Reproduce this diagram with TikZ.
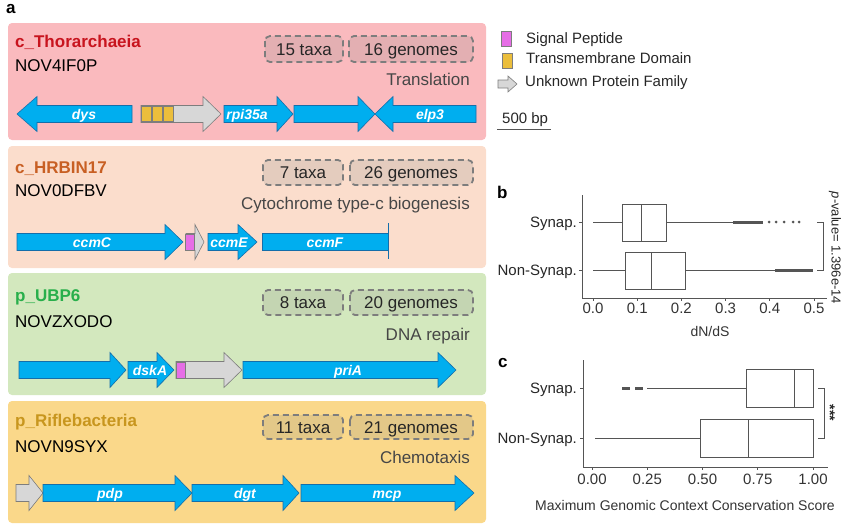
\documentclass[tikz,border=0pt]{standalone}
\usepackage{fontspec}
\setmainfont{Liberation Sans}
\definecolor{pinkbox}{RGB}{250,186,190}
\definecolor{peachbox}{RGB}{251,221,204}
\definecolor{greenbox}{RGB}{211,232,190}
\definecolor{yellowbox}{RGB}{250,216,138}
\definecolor{spred}{RGB}{200,20,30}
\definecolor{sporange}{RGB}{200,95,35}
\definecolor{spgreen}{RGB}{40,175,75}
\definecolor{spgold}{RGB}{200,150,30}
\definecolor{genec}{RGB}{0,174,239}
\definecolor{genee}{RGB}{20,110,170}
\definecolor{unkc}{RGB}{215,215,215}
\definecolor{unke}{RGB}{125,125,125}
\definecolor{sigc}{RGB}{230,110,230}
\definecolor{tmc}{RGB}{235,190,60}
\definecolor{axc}{RGB}{85,85,85}
\definecolor{txtgray}{RGB}{70,70,70}
\newcommand\geneR[5][gene]{\draw[#1] (#2,#5-8.5) -- (#3,#5-8.5) -- (#3,#5-17.5) -- (#4,#5) -- (#3,#5+17.5) -- (#3,#5+8.5) -- (#2,#5+8.5) -- cycle;}
\newcommand\geneL[5][gene]{\draw[#1] (#2,#5-8.5) -- (#3,#5-8.5) -- (#3,#5-17.5) -- (#4,#5) -- (#3,#5+17.5) -- (#3,#5+8.5) -- (#2,#5+8.5) -- cycle;}
\begin{document}
\begin{tikzpicture}[x=1pt,y=-1pt,
  gene/.style={fill=genec,draw=genee,line width=0.6pt},
  unk/.style={fill=unkc,draw=unke,line width=0.6pt},
  glab/.style={text=white,anchor=base,inner sep=0pt,font=\fontsize{14}{16}\selectfont\bfseries\itshape},
  panelbox/.style={rounded corners=4pt,draw=none},
  sp/.style={anchor=base west,inner sep=0pt,font=\fontsize{17}{20}\selectfont\bfseries},
  nov/.style={anchor=base west,inner sep=0pt,font=\fontsize{17}{20}\selectfont},
  func/.style={anchor=base east,inner sep=0pt,text=txtgray,font=\fontsize{17}{20}\selectfont},
  dbox/.style={draw=unke,dashed,dash pattern=on 6pt off 4pt,line width=1.8pt,rounded corners=5pt,fill=gray,fill opacity=0.18,text opacity=1},
  dtxt/.style={anchor=base,inner sep=0pt,text=black!85,font=\fontsize{17}{20}\selectfont},
  plab/.style={anchor=base west,inner sep=0pt,font=\fontsize{17}{20}\selectfont\bfseries},
  leg/.style={anchor=base west,inner sep=0pt,text=black!85,font=\fontsize{15}{18}\selectfont},
  axis/.style={draw=axc,line width=0.8pt},
  bx/.style={draw=axc,line width=0.8pt,fill=white},
  tick/.style={anchor=base,inner sep=0pt,text=black!80,font=\fontsize{15}{18}\selectfont},
  ylab/.style={anchor=base east,inner sep=0pt,text=black!85,font=\fontsize{15}{18}\selectfont},
  outl/.style={draw=axc,line width=3pt}
]
\useasboundingbox (0,0) rectangle (850,528);
% ---------------- panel a -----------------
\node[plab] (la) at (6,13.5) {a};
\fill[pinkbox,panelbox] (8,23) rectangle (486,140);
\fill[peachbox,panelbox] (8,146) rectangle (486,268);
\fill[greenbox,panelbox] (8,273) rectangle (486,395);
\fill[yellowbox,panelbox] (8,401) rectangle (486,523);

% row 1
\node[sp,text=spred] (s1) at (15,47) {c\_Thorarchaeia};
\node[nov] (n1) at (15,71) {NOV4IF0P};
\draw[dbox] (265,36) rectangle (343,62);
\draw[dbox] (349,36) rectangle (473,62);
\node[dtxt] (t1) at (304,55) {15 taxa};
\node[dtxt] (g1) at (411,55) {16 genomes};
\node[func] (f1) at (470,85) {Translation};
\geneL{132}{37}{17}{114}
\geneR[unk]{141}{203}{221}{114}
\foreach \xx in {141,152,163} \draw[fill=tmc,draw=unke,line width=0.6pt] (\xx,106.5) rectangle ++(10,15);
\geneR{224}{277}{293}{114}
\geneR{294}{358}{375}{114}
\geneL{476}{393}{375}{114}
\node[glab] (d1) at (84,119) {dys};
\node[glab] (d2) at (247,119) {rpi35a};
\node[glab] (d3) at (430,119) {elp3};

% row 2
\node[sp,text=sporange] (s2) at (15,173) {c\_HRBIN17};
\node[nov] (n2) at (15,196) {NOV0DFBV};
\draw[dbox] (263,160) rectangle (343,185);
\draw[dbox] (350,160) rectangle (473,185);
\node[dtxt] (t2) at (303,178) {7 taxa};
\node[dtxt] (g2) at (411,178) {26 genomes};
\node[func] (f2) at (470,209) {Cytochrome type-c biogenesis};
\geneR{17}{165}{183}{242}
\geneR[unk]{186}{195}{204}{242}
\draw[fill=sigc,draw=unke,line width=0.6pt] (185,234) rectangle (194,250);
\geneR{208}{238}{257}{242}
\draw[gene] (262,233.5) rectangle (388,250.5);
\draw[draw=genee,line width=1pt] (388,223) -- (388,259);
\node[glab] (e1) at (92,247) {ccmC};
\node[glab] (e2) at (229,247) {ccmE};
\node[glab] (e3) at (325,247) {ccmF};

% row 3
\node[sp,text=spgreen] (s3) at (15,301) {p\_UBP6};
\node[nov] (n3) at (15,327) {NOVZXODO};
\draw[dbox] (263,290) rectangle (343,315);
\draw[dbox] (350,290) rectangle (473,315);
\node[dtxt] (t3) at (303,308) {8 taxa};
\node[dtxt] (g3) at (411,308) {20 genomes};
\node[func] (f3) at (470,340) {DNA repair};
\geneR{19}{110}{126}{370}
\geneR{128}{157}{174}{370}
\geneR[unk]{176}{224}{242}{370}
\draw[fill=sigc,draw=unke,line width=0.6pt] (176,362) rectangle (185,378);
\geneR{243}{438}{456}{370}
\node[glab] (h1) at (150,375) {dskA};
\node[glab] (h2) at (348,375) {priA};

% row 4
\node[sp,text=spgold] (s4) at (15,426) {p\_Riflebacteria};
\node[nov] (n4) at (15,452) {NOVN9SYX};
\draw[dbox] (263,415) rectangle (343,439);
\draw[dbox] (350,415) rectangle (473,439);
\node[dtxt] (t4) at (303,433) {11 taxa};
\node[dtxt] (g4) at (411,433) {21 genomes};
\node[func] (f4) at (470,463) {Chemotaxis};
\geneR[unk]{16}{29}{43}{493}
\geneR{43}{175}{192}{493}
\geneR{192}{283}{299}{493}
\geneR{301}{455}{474}{493}
\node[glab] (k1) at (110,498) {pdp};
\node[glab] (k2) at (245,498) {dgt};
\node[glab] (k3) at (387,498) {mcp};

% legend
\draw[fill=sigc,draw=unke,line width=0.6pt] (501,31) rectangle (511,46);
\draw[fill=tmc,draw=unke,line width=0.6pt] (502,53) rectangle (512,68);
\draw[unk] (498,80) -- (508,80) -- (508,76) -- (517,84) -- (508,92) -- (508,88) -- (498,88) -- cycle;
\node[leg] (l1) at (526,43) {Signal Peptide};
\node[leg] (l2) at (526,63) {Transmembrane Domain};
\node[leg] (l3) at (525,86) {Unknown Protein Family};
\node[leg] (l4) at (502,123) {500 bp};
\draw[axc,line width=1pt] (497,129) -- (551,129);

% ---------------- panel b -----------------
\node[plab] (lb) at (497,198) {b};
\draw[axis] (582,195) -- (582,298) -- (827,298);
\foreach \v/\t in {0/0.0,1/0.1,2/0.2,3/0.3,4/0.4,5/0.5} {
  \draw[axis] ({593+44.2*\v},298) -- ({593+44.2*\v},301);
  \node[tick] at ({593+44.2*\v},313) {\t};
}
\draw[axis] (579,222) -- (582,222);
\draw[axis] (579,270) -- (582,270);
\node[ylab] (yb1) at (577,227.5) {Synap.};
\node[ylab] (yb2) at (577,275.5) {Non-Synap.};
\node[tick,font=\fontsize{14}{17}\selectfont] (xb) at (710,336) {dN/dS};
% Synap
\draw[axis] (593,222) -- (733,222);
\draw[bx] (622,204) rectangle (666,241);
\draw[axis] (641,204) -- (641,241);
\draw[outl] (733,222) -- (763,222);
\foreach \xx in {769,776,784,793,799} \fill[axc] (\xx,222) circle (1.5);
% Non-Synap
\draw[axis] (593,270) -- (775,270);
\draw[bx] (625,252) rectangle (685,289);
\draw[axis] (651,252) -- (651,289);
\draw[outl] (775,270) -- (813,270);
% bracket
\draw[axis] (817,222) -- (823,222) -- (823,270) -- (817,270);
\node[rotate=-90,inner sep=0pt,text=black!85,font=\fontsize{13}{15}\selectfont] (pv) at (835,248) {\textit{p}-value= 1.396e-14};

% ---------------- panel c -----------------
\node[plab] (lc) at (498,367) {c};
\draw[axis] (583,360) -- (583,467) -- (828,467);
\foreach \v/\t in {0/0.00,1/0.25,2/0.50,3/0.75,4/1.00} {
  \draw[axis] ({592+55.25*\v},467) -- ({592+55.25*\v},470);
  \node[tick] at ({592+55.25*\v},484) {\t};
}
\draw[axis] (580,388) -- (583,388);
\draw[axis] (580,438) -- (583,438);
\node[ylab] (yc1) at (577,393.5) {Synap.};
\node[ylab] (yc2) at (577,443.5) {Non-Synap.};
\node[tick,font=\fontsize{14}{17}\selectfont] (xc) at (685,510) {Maximum Genomic Context Conservation Score};
% Synap
\draw[axis] (647,388) -- (746,388);
\draw[bx] (746,369) rectangle (813,407);
\draw[axis] (794,369) -- (794,407);
\draw[outl] (622,388) -- (630,388);
\draw[outl] (635,388) -- (643,388);
% Non-Synap
\draw[axis] (595,438) -- (700,438);
\draw[bx] (700,419) rectangle (813,457);
\draw[axis] (748,419) -- (748,457);
% bracket
\draw[axis] (818,388) -- (824,388) -- (824,438) -- (818,438);
\node[rotate=-90,inner sep=0pt,text=black!85,font=\fontsize{14}{16}\selectfont\bfseries] (st) at (830,413) {***};
\end{tikzpicture}
\end{document}
